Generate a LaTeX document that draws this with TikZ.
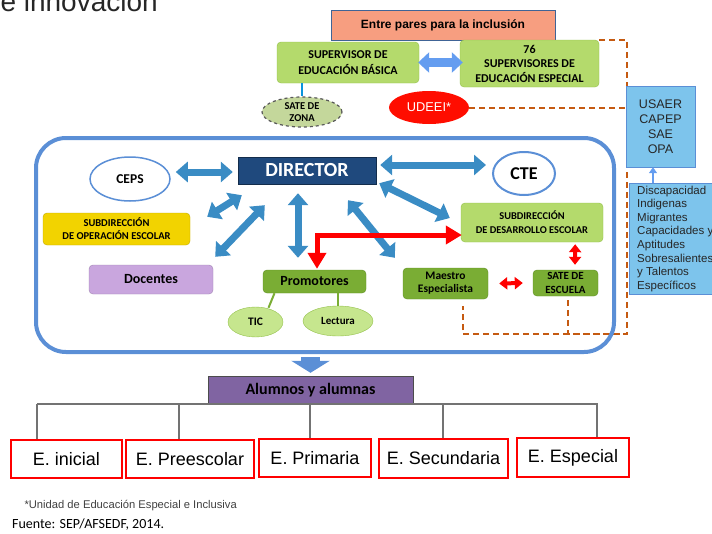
\documentclass[tikz,border=0pt]{standalone}
\usepackage{fontspec}
\setmainfont{Carlito}
\newfontfamily\arial{Liberation Sans}
\usetikzlibrary{arrows.meta,shapes.geometric,backgrounds}
\definecolor{lgreen}{HTML}{B4DA6C}
\definecolor{lgreenD}{HTML}{93C04A}
\definecolor{dgreen}{HTML}{7AAD34}
\definecolor{dgreenD}{HTML}{5E8E22}
\definecolor{elgreen}{HTML}{C6E68E}
\definecolor{navy}{HTML}{1F497D}
\definecolor{arrblue}{HTML}{3A8CC4}
\definecolor{frameblue}{HTML}{5B8FD6}
\definecolor{skyblue}{HTML}{7DC4EC}
\definecolor{salmon}{HTML}{F79E80}
\definecolor{purp}{HTML}{8064A2}
\definecolor{dorange}{HTML}{C55A11}
\definecolor{yell}{HTML}{F2D300}
\definecolor{lav}{HTML}{C9A6DE}
\definecolor{olive}{HTML}{C4D79B}
\tikzset{>=stealth,
  bf/.style 2 args={font=\fontsize{#1}{#2}\selectfont\bfseries},
  af/.style 2 args={font=\arial\fontsize{#1}{#2}\selectfont},
  lgbox/.style={draw=lgreenD, fill=lgreen, rounded corners=4, align=center, inner sep=0},
  dgbox/.style={draw=dgreenD, fill=dgreen, rounded corners=4, align=center, inner sep=0},
  gellipse/.style={ellipse, draw=lgreenD, fill=elgreen, inner sep=0},
  ebox/.style={draw=red, line width=2, fill=white, af={18}{20}, inner sep=0},
  barrow/.style={draw=arrblue, line width=7, {Triangle[width=20pt,length=12pt]}-{Triangle[width=20pt,length=12pt]}},
  rarrow/.style={draw=red, line width=5, {Triangle[width=18pt,length=16pt]}-{Triangle[width=18pt,length=16pt]}},
  srarrow/.style={draw=red, line width=4, {Triangle[width=12pt,length=8pt]}-{Triangle[width=12pt,length=8pt]}},
  dashline/.style={draw=dorange, line width=2, dash pattern=on 6pt off 4pt},
  treeline/.style={draw=black!55, line width=1.5}
}

\begin{document}
\begin{tikzpicture}[x=1pt, y=-1pt]
\useasboundingbox (0,0) rectangle (712,533);
\node[anchor=base west, af={28}{30}, text=black!85] (titulo) at (-3,11) {e innovación};
\node[draw=frameblue!70!black, fill=salmon, minimum width=224, minimum height=30, inner sep=0,
  font=\arial\fontsize{12}{14}\selectfont\bfseries] (pares) at (443,25) {Entre pares para la inclusión};
\node[lgbox, bf={12}{16}, minimum width=142, minimum height=41] (sup) at (348,62.5) {SUPERVISOR DE\\EDUCACIÓN BÁSICA};
\node[lgbox, bf={12}{14.5}, minimum width=139, minimum height=47] (sv76) at (529.5,63.5) {76\\SUPERVISORES DE\\EDUCACIÓN ESPECIAL};
\node[ellipse, draw=black!65, dashed, line width=1.2, fill=olive, minimum width=80, minimum height=30,
  inner sep=0, align=center, bf={10.5}{12}] (zona) at (302,112) {SATE DE\\ZONA};
\node[ellipse, fill=red!90!orange, minimum width=80, minimum height=33, inner sep=0,
  af={12.8}{14}, text=white] (udeei) at (429,107.5) {UDEEI*};
\node[draw=frameblue, fill=skyblue, minimum width=69, minimum height=81, inner sep=0,
  align=center, af={12.5}{14.8}, text=black!85] (usaer) at (660.5,126.5) {USAER\\CAPEP\\SAE\\OPA};
\node[draw=frameblue, fill=skyblue, anchor=north west, inner xsep=8, inner ysep=0, minimum height=111,
  align=left, af={11.5}{13.6}, text=black!85] (disc) at (629,183)
  {Discapacidad\\Indigenas\\Migrantes\\Capacidades y\\Aptitudes\\Sobresalientes\\y Talentos\\Específicos};
\node[draw=frameblue, line width=4, rounded corners=30, minimum width=578, minimum height=214] (escuela) at (325,245) {};
\node[ellipse, draw=frameblue, line width=1.5, fill=white, minimum width=80, minimum height=44,
  inner sep=0, bf={13.5}{15}] (ceps) at (130,179) {CEPS};
\node[draw=navy!60!black, fill=navy, minimum width=138, minimum height=27, inner sep=0,
  bf={20}{22}, text=white] (dir) at (307,170.5) {DIRECTOR};
\node[ellipse, draw=frameblue, line width=2, fill=white, minimum width=62, minimum height=43,
  inner sep=0, bf={18}{20}] (cte) at (524,173.5) {CTE};
\node[draw=yell!80!black, fill=yell, rounded corners=4, minimum width=147, minimum height=32,
  inner sep=0, align=center, bf={10.5}{13}] (subop) at (116.5,229) {SUBDIRECCIÓN\\DE OPERACIÓN ESCOLAR};
\node[draw=lav!80!black, fill=lav, rounded corners=4, minimum width=124, minimum height=29,
  inner sep=0, bf={14}{16}] (doc) at (151,279.5) {Docentes};
\node[dgbox, bf={14}{16}, minimum width=103, minimum height=23] (prom) at (314.5,281.5) {Promotores};
\node[gellipse, minimum width=55, minimum height=30, bf={11.5}{13}] (tic) at (255.5,322) {TIC};
\node[gellipse, minimum width=70, minimum height=30, bf={11}{12}] (lect) at (338,321) {Lectura};
\node[dgbox, bf={11.5}{13.3}, minimum width=85, minimum height=31] (mae) at (445.5,283.5) {Maestro\\Especialista};
\node[dgbox, bf={11}{13.3}, minimum width=65, minimum height=26] (sate) at (565.5,283) {SATE DE\\ESCUELA};
\node[lgbox, bf={10.4}{14}, minimum width=142, minimum height=39] (sdes) at (532,222.5) {SUBDIRECCIÓN\\DE DESARROLLO ESCOLAR};
\node[draw=black!70, fill=purp, minimum width=205, minimum height=28, inner sep=0,
  bf={16}{18}] (alumnos) at (310.5,390) {Alumnos y alumnas};
\node[ebox, minimum width=111, minimum height=38] (ein) at (66.5,459) {E. inicial};
\node[ebox, minimum width=128, minimum height=38] (epre) at (190,459) {E. Preescolar};
\node[ebox, minimum width=112, minimum height=38] (epri) at (315,458) {E. Primaria};
\node[ebox, minimum width=129, minimum height=39] (esec) at (443.5,458.5) {E. Secundaria};
\node[ebox, minimum width=112, minimum height=39] (eesp) at (573,457.5) {E. Especial};
\node[anchor=base west, af={11.2}{12}, text=black!75] (nota) at (21,508) {*Unidad de Educación Especial e Inclusiva};
\node[anchor=base west, font=\fontsize{14}{16}\selectfont, inner sep=0] (fuente) at (12,528) {Fuente: SEP/AFSEDF, 2014.};
\coordinate (dcorner) at (627,334);
\begin{scope}[on background layer]
\draw[dashline] (sv76.north east) -| (dcorner) -| ([shift={(17.5,7)}]mae.south);
\draw[dashline] (udeei.east) -- (udeei.east -| dcorner);
\draw[dashline] ([shift={(2.5,4)}]sate.south) |- (dcorner);
\end{scope}
\draw[draw=cyan!80!blue, line width=2] (zona.north) -- (zona.north |- sup.south);
\draw[draw=skyblue!80!blue, line width=9, {Triangle[width=20pt,length=11pt]}-{Triangle[width=20pt,length=11pt]}]
  ([shift={(-1,0)}]sup.east) -- ([shift={(3,-1)}]sv76.west);
\draw[draw=skyblue!80!blue, line width=1.5, -{Triangle[width=8pt,length=6pt]}]
  ([shift={(-7.5,16)}]usaer.south) -- ([shift={(-7.5,0)}]usaer.south);
\draw[barrow] ([shift={(5,-7)}]ceps.east) -- ([shift={(-5,1.5)}]dir.west);
\draw[barrow] ([shift={(4,-5.5)}]dir.east) -- ([shift={(-6,-8.5)}]cte.west);
\draw[barrow] ([shift={(4,11)}]dir.south west) -- ([shift={(17,4)}]subop.north east);
\draw[barrow] ([shift={(27,21)}]dir.south west) -- ([shift={(2,-8)}]doc.north east);
\draw[barrow] ([shift={(-9,9)}]dir.south) -- ([shift={(-16.5,-12)}]prom.north);
\draw[barrow] ([shift={(41,16)}]dir.south) -- ([shift={(-8,-10)}]mae.north west);
\draw[barrow] ([shift={(3,-1)}]dir.south east) -- ([shift={(-11,-4.5)}]sdes.west);
\draw[rarrow] ([shift={(2.5,-1)}]prom.north) |- ([shift={(1,12.5)}]sdes.west);
\draw[srarrow] ([shift={(11,0)}]mae.east) -- ([shift={(-10,0)}]sate.west);
\draw[srarrow] ([shift={(-28,2)}]sdes.south east) -- ([shift={(9.5,-5)}]sate.north);
\draw[draw=dgreen, line width=2] ([shift={(-40,0)}]prom.south) -- ([shift={(13,1)}]tic.north);
\draw[draw=dgreen, line width=2] ([shift={(23.5,0)}]prom.south) -- (lect.north);
\draw[draw=frameblue, line width=19, -{Triangle[width=38pt,length=12pt]}]
  ([shift={(0,3)}]alumnos.north |- escuela.south) -- ([shift={(0,-3)}]alumnos.north);
\draw[treeline] (37,0 |- alumnos.south) -- (598,0 |- alumnos.south);
\foreach \x/\b in {37/ein,179/epre,310/epri,443/esec,597/eesp}
  \draw[treeline] (\x,0 |- alumnos.south) -- (\x,0 |- \b.north);
\end{tikzpicture}
\end{document}
